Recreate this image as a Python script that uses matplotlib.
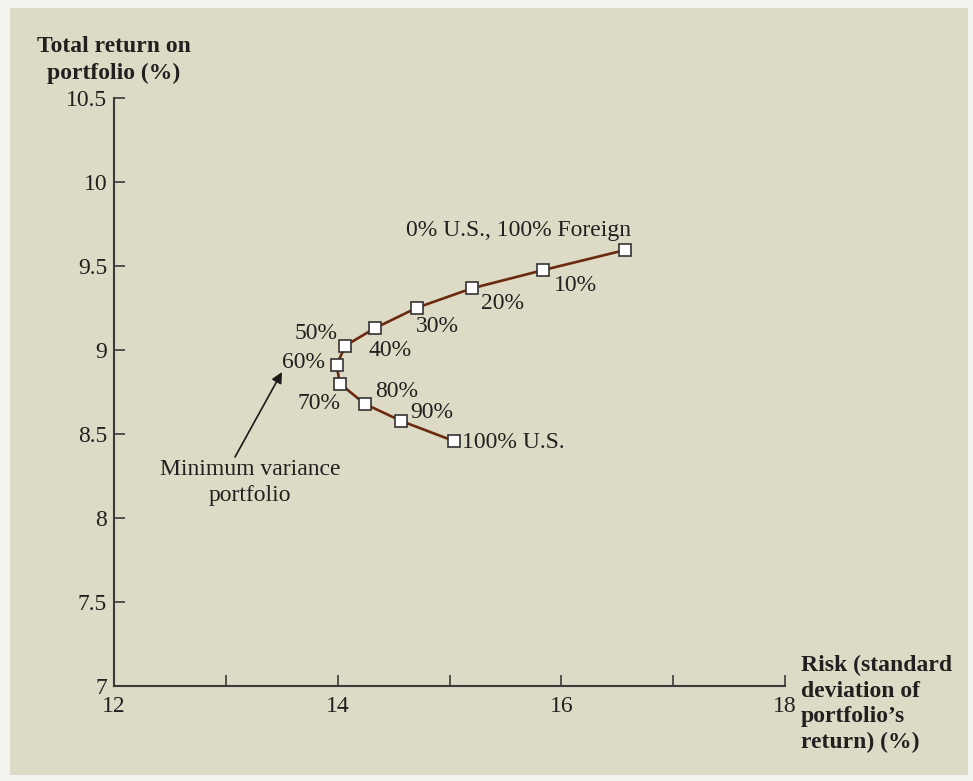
import numpy as np
import matplotlib.pyplot as plt
from matplotlib.patches import Rectangle

plt.rcParams["font.family"] = ["Liberation Serif", "DejaVu Serif"]

# =====================================================
# DATA
# =====================================================

risk = [16.57, 15.84, 15.20, 14.71, 14.33, 14.07, 13.99, 14.02, 14.24, 14.57, 15.04]
ret = [9.595, 9.476, 9.367, 9.252, 9.129, 9.026, 8.911, 8.80, 8.68, 8.577, 8.458]
labels = ["0% U.S., 100% Foreign", "10%", "20%", "30%", "40%", "50%",
          "60%", "70%", "80%", "90%", "100% U.S."]

# label offsets in pixels from each point, and horizontal alignment
label_dx = [-107, 32, 31, 20, 15, -29, -33, -21, 32, 30, 8]
label_dy = [20, -15, -15, -19, -22, 12, 2, -20, 12, 9, -1]
label_ha = ["center"] * 10 + ["left"]

x_ticks = [12, 13, 14, 15, 16, 17, 18]
x_tick_labels = ["12", "", "14", "", "16", "", "18"]
y_ticks = [7, 7.5, 8, 8.5, 9, 9.5, 10, 10.5]
y_tick_labels = ["7", "7.5", "8", "8.5", "9", "9.5", "10", "10.5"]

BEIGE = "#dddac5"
LINE = "#6b2a0f"
AXIS = "#3a3a3a"
TEXT = "#231f20"
FS = 17

# =====================================================
# FIGURE
# =====================================================

fig = plt.figure(figsize=(9.73, 7.81), dpi=100, facecolor="#f3f3f0")
fig.patches.append(
    Rectangle((10 / 973, 1 - 775 / 781), 958 / 973, 767 / 781,
              transform=fig.transFigure, facecolor=BEIGE,
              edgecolor="none", zorder=-10)
)

ax = fig.add_axes([114 / 973, 1 - 686 / 781, 671 / 973, 588 / 781])
ax.set_zorder(1)
ax.set_facecolor("none")

ax.plot(risk, ret, color=LINE, linewidth=1.9, zorder=2)
ax.plot(risk, ret, linestyle="none", marker="s", markersize=9.2,
        markerfacecolor="white", markeredgecolor="#333333",
        markeredgewidth=1.2, zorder=3)

for xi, yi, lab, dx, dy, ha in zip(risk, ret, labels, label_dx, label_dy, label_ha):
    ax.annotate(lab, xy=(xi, yi), xytext=(dx, dy),
                textcoords="offset pixels", ha=ha, va="center",
                fontsize=FS, color=TEXT)

# minimum variance arrow
ax.annotate("", xy=(13.502, 8.869), xytext=(13.082, 8.363),
            arrowprops=dict(arrowstyle="-|>", color="#1a1a1a",
                            lw=1.2, mutation_scale=16,
                            shrinkA=0, shrinkB=0))
ax.text(13.216, 8.211, "Minimum variance\nportfolio",
        ha="center", va="center", multialignment="center",
        fontsize=FS, color=TEXT, linespacing=1.3)

# axes styling
ax.set_xlim(12, 18)
ax.set_ylim(7, 10.5)
ax.set_xticks(x_ticks)
ax.set_xticklabels(x_tick_labels)
ax.set_yticks(y_ticks)
ax.set_yticklabels(y_tick_labels)

for side in ["top", "right"]:
    ax.spines[side].set_visible(False)
for side in ["left", "bottom"]:
    ax.spines[side].set_color(AXIS)
    ax.spines[side].set_linewidth(1.5)

ax.tick_params(direction="in", length=8, width=1.2, color=AXIS,
               labelsize=FS, labelcolor=TEXT)
ax.tick_params(axis="x", pad=7)
ax.tick_params(axis="y", pad=5)

# axis titles
fig.text(114 / 973, 1 - 60 / 781, "Total return on\nportfolio (%)",
         ha="center", va="center", fontsize=FS, fontweight="bold",
         color=TEXT, linespacing=1.35)
fig.text(801 / 973, 1 - 704 / 781,
         "Risk (standard\ndeviation of\nportfolio\u2019s\nreturn) (%)",
         ha="left", va="center", fontsize=FS, fontweight="bold",
         color=TEXT, linespacing=1.3)

fig.savefig("out.png", dpi=100, facecolor=fig.get_facecolor())
